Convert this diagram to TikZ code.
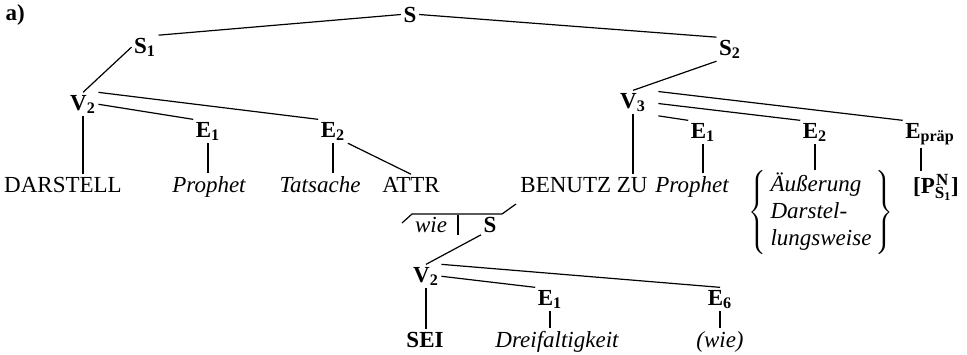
\documentclass[tikz,border=0pt]{standalone}
\usepackage{fontspec}
\setmainfont{Liberation Serif}
\usepackage{tikz}

\newcommand{\nsstack}{{\fontsize{8.5}{9}\selectfont\rlap{\makebox[7.4pt]{\raisebox{4pt}{N}}}\raisebox{-2.5pt}{S\textsubscript{1}}}}

\begin{document}
\begin{tikzpicture}[x=0.5pt,y=-0.5pt,line width=0.6pt,
  font=\fontsize{11.5}{13.5}\selectfont,
  catlab/.style={anchor=base,inner sep=1pt,font=\fontsize{11.5}{13.5}\selectfont\bfseries},
  wrd/.style={anchor=base,inner sep=1pt},
  itw/.style={anchor=base,inner sep=1pt,font=\fontsize{11.5}{13.5}\selectfont\itshape}]
\useasboundingbox (0,0) rectangle (967,354);

\node[catlab,anchor=base west] (tag) at (3,20) {a)};
\node[catlab] (S) at (410,22) {S};
\node[catlab] (S1) at (145,53) {S\textsubscript{1}};
\node[catlab] (S2) at (730,55) {S\textsubscript{2}};
\node[catlab] (V2) at (83,110) {V\textsubscript{2}};
\node[catlab] (E1) at (208,137) {E\textsubscript{1}};
\node[catlab] (E2) at (333,137) {E\textsubscript{2}};
\node[catlab] (V3) at (633,108) {V\textsubscript{3}};
\node[catlab] (E1r) at (703,138) {E\textsubscript{1}};
\node[catlab] (E2r) at (815,138) {E\textsubscript{2}};
\node[catlab] (Ep) at (930,138) {E\textsubscript{präp}};

\node[wrd] (dar) at (63,192) {DARSTELL};
\node[itw] (proph) at (209,192) {Prophet};
\node[itw] (tat) at (320,192) {Tatsache};
\node[wrd] (attr) at (411,192) {ATTR};
\node[wrd] (benutz) at (584,192) {BENUTZ ZU};
\node[itw] (prophr) at (692,192) {Prophet};
\node[anchor=north,inner sep=0pt] (aeuss) at (821,170)
  {$\left\{\begin{tabular}{@{\,}l@{\,}}\itshape Äußerung\\ \itshape Darstel-\\ \itshape lungsweise\end{tabular}\right\}$};
\node[catlab] (pns) at (936,193) {[P\nsstack]};

\coordinate (b1) at (516,204);
\coordinate (b2) at (502,214);
\coordinate (b3) at (412,214);
\coordinate (b4) at (402,223);
\coordinate (bd) at (458,215);
\node[itw] (wie) at (431,232) {wie};
\node[catlab] (Sa) at (490,232) {S};
\node[catlab] (V2b) at (426,282) {V\textsubscript{2}};
\node[catlab] (E1b) at (550,305) {E\textsubscript{1}};
\node[catlab] (E6) at (720,305) {E\textsubscript{6}};
\node[catlab] (sei) at (425,347) {SEI};
\node[itw] (dreif) at (557,347) {Dreifaltigkeit};
\node[itw] (wie2) at (720,347) {(wie)};

\draw (S.west) -- (S1.north east);
\draw (S.east) -- (S2.north west);
\draw (S1.west) -- (V2.north);
\draw (V2.south) -- (V2.south |- dar.north);
\draw (V2.east) -- (E1.north west);
\draw (V2.north east) -- (E2.north west);
\draw (E1.south) -- (E1.south |- proph.north);
\draw (E2.south) -- (E2.south |- tat.north);
\draw (E2.south east) -- (attr.north);

\draw (S2.south west) -- (V3.north);
\draw (V3.south) -- (V3.south |- benutz.north);
\draw[shorten <=5pt] (V3.north east) -- (Ep.north west);
\draw[shorten <=5pt] (V3.east) -- (E2r.north west);
\draw[shorten <=5pt] (V3.south east) -- (E1r.north west);
\draw (E1r.south) -- (E1r.south |- prophr.north);
\draw (E2r.south) -- (E2r.south |- aeuss.north);
\draw ([xshift=-4.5pt]Ep.south) -- ([xshift=-4.5pt]Ep.south |- pns.north);

\draw (b1) -- (b2) -- (b3) -- (b4);
\draw (bd) -- (bd |- Sa.south);
\draw (Sa.south west) -- (V2b.north);
\draw (V2b.south) -- (V2b.south |- sei.north);
\draw (V2b.east) -- (E1b.north west);
\draw (V2b.north east) -- (E6.north);
\draw (E1b.south) -- (E1b.south |- dreif.north);
\draw (E6.south) -- (E6.south |- wie2.north);
\end{tikzpicture}
\end{document}
